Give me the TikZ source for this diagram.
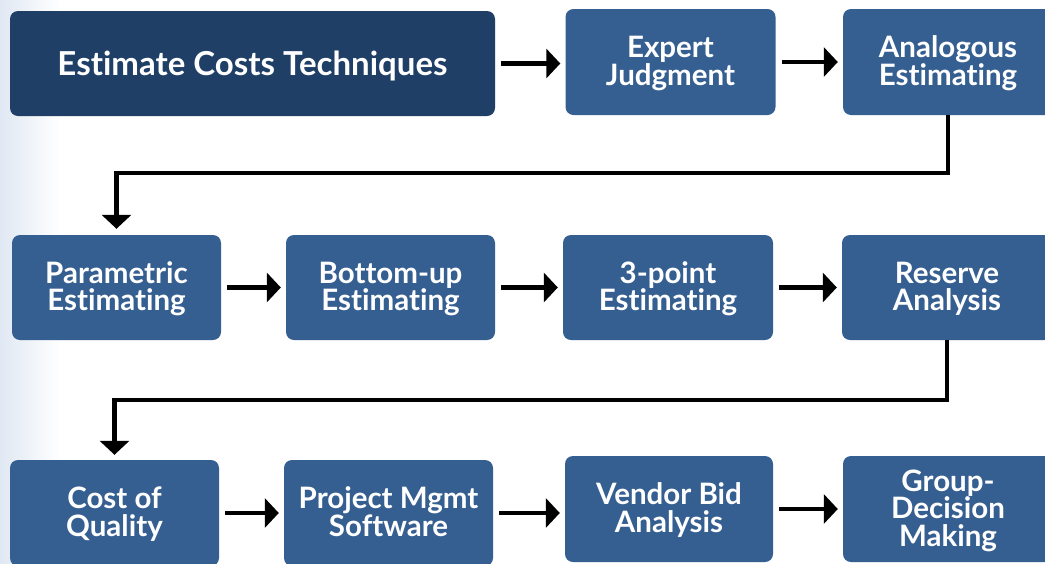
\documentclass[tikz,border=0pt]{standalone}
\usepackage{fontspec}
\setmainfont{Lato}[Ligatures=NoCommon]
\usetikzlibrary{arrows.meta}
\definecolor{navy}{HTML}{1F3F66}
\definecolor{steel}{HTML}{365F91}
\definecolor{bgblue}{HTML}{E0E8F3}
\newcommand\lbl[1]{\rule{0pt}{26pt}#1\rule[-7pt]{0pt}{0pt}}
\begin{document}
\begin{tikzpicture}[x=1pt,y=-1pt,
  box/.style={fill=steel, rounded corners=8pt, minimum width=210pt, minimum height=106pt,
    text=white, align=center, inner sep=0pt,
    font=\fontsize{29.5}{27.5}\selectfont\bfseries},
  titlebox/.style={box, fill=navy, minimum width=485pt, minimum height=105pt,
    font=\fontsize{33}{30}\selectfont\bfseries},
  arr/.style={line width=4.5pt, -{Triangle[length=14pt,width=29pt]}},
  harr/.style={arr, shorten <=6pt, shorten >=5pt}]
\useasboundingbox (0,0) rectangle (1045,563);
\clip (0,0) rectangle (1045,563);
\fill[white] (0,0) rectangle (1045,563);
\shade[left color=bgblue, right color=white] (0,0) rectangle (60,563);
% row 1
\node[titlebox] (t) at (252.5,63.5) {\rule{0pt}{31pt}Estimate Costs Techniques\rule[-7pt]{0pt}{0pt}};
\node[box] (e) at (670.5,62) {\lbl{Expert\\Judgment}};
\node[box] (a) at (948,62) {\lbl{Analogous\\Estimating}};
% row 2
\node[box, minimum width=209pt, minimum height=105pt] (p) at (116.5,287.5) {\lbl{Parametric\\Estimating}};
\node[box, minimum width=209pt, minimum height=105pt] (b) at (390.5,287.5) {\lbl{Bottom-up\\Estimating}};
\node[box, minimum height=105pt] (q) at (668,287.5) {\lbl{3-point\\Estimating}};
\node[box, minimum height=105pt] (r) at (947,287.5) {\lbl{Reserve\\Analysis}};
% row 3
\node[box, minimum width=209pt] (c) at (114.5,513) {\lbl{Cost of\\Quality}};
\node[box, minimum width=209pt] (m) at (388.5,513) {\lbl{Project Mgmt\\Software}};
\node[box, minimum width=208pt] (v) at (669,509) {\lbl{Vendor Bid\\Analysis}};
\node[box] (g) at (948,509) {\lbl{Group-\\Decision\\Making}};
% connectors
\draw[harr] (t.east) -- (t.east -| e.west);
\draw[harr] (e.east) -- (a.west);
\draw[arr, shorten >=6pt] (a.south) -- ++(0,58) -| (p.north);
\draw[harr] (p.east) -- (b.west);
\draw[harr] (b.east) -- (q.west);
\draw[harr] (q.east) -- (r.west);
\draw[arr, shorten >=5pt] (r.south) -- ++(0,60) -| (c.north);
\draw[harr] (c.east) -- (m.west);
\draw[harr] (m.east) -- (m.east -| v.west);
\draw[harr] (v.east) -- (g.west);
\end{tikzpicture}
\end{document}
